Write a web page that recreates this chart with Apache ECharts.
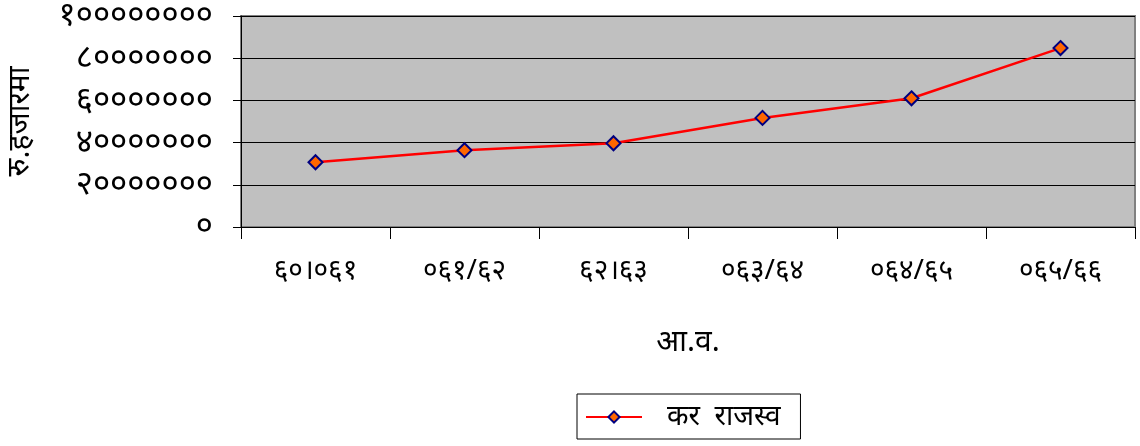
<!DOCTYPE html>
<html><head><meta charset="utf-8">
<script src="https://cdn.jsdelivr.net/npm/echarts@6/dist/echarts.min.js"></script>
<style>html,body{margin:0;padding:0;background:#fff}#c{width:1140px;height:446px}</style>
</head><body><div id="c"></div>
<script>
const categories = ['६०।०६१', '०६१/६२', '६२।६३', '०६३/६४', '०६४/६५', '०६५/६६'];
const seriesName = 'कर  राजस्व';
const values = [30700000, 36400000, 39700000, 51700000, 61000000, 84800000];
const yTicks = [0, 20000000, 40000000, 60000000, 80000000, 100000000];
const devDigits = ['०','१','२','३','४','५','६','७','८','९'];
function toDev(n){ return String(n).replace(/[0-9]/g, d => devDigits[+d]); }

const chart = echarts.init(document.getElementById('c'));
chart.setOption({
  animation: false,
  backgroundColor: '#fff',
  textStyle: { fontFamily: 'Noto Sans, sans-serif', color: '#000' },
  grid: { left: 241, right: 5, top: 16, bottom: 219, show: true, containLabel: false,
    outerBoundsMode: 'none',
    backgroundColor: '#C0C0C0', borderColor: '#808080', borderWidth: 2 },
  xAxis: {
    type: 'category', data: categories, boundaryGap: true,
    name: 'आ.व.', nameLocation: 'middle', nameGap: 100,
    nameTextStyle: { fontSize: 30, color: '#000' },
    axisLine: { lineStyle: { color: '#000', width: 1 } },
    axisTick: { show: true, length: 12, lineStyle: { color: '#000' } },
    axisLabel: { fontSize: 28, color: '#000', margin: 30 }
  },
  yAxis: {
    type: 'value', min: 0, max: 100000000, interval: 20000000,
    name: 'रु.हजारमा', nameLocation: 'middle', nameGap: 206, nameRotate: 90,
    nameTextStyle: { fontSize: 30, color: '#000' },
    axisLine: { show: true, lineStyle: { color: '#000', width: 1 } },
    axisTick: { show: true, length: 8, lineStyle: { color: '#000' } },
    axisLabel: { fontSize: 33, color: '#000', margin: 28,
      formatter: v => yTicks.includes(v) ? toDev(v) : '' },
    splitLine: { show: true, lineStyle: { color: '#000', width: 1 } }
  },
  legend: {
    data: [seriesName], left: 577, top: 394,
    padding: [9, 20, 8, 8],
    borderColor: '#000', borderWidth: 1, backgroundColor: '#fff',
    itemWidth: 56, itemHeight: 14, itemGap: 10,
    textStyle: { fontSize: 28, color: '#000', padding: [0, 0, 0, 20] }
  },
  series: [{
    name: seriesName, type: 'line', data: values,
    symbol: 'diamond', symbolSize: 14,
    lineStyle: { color: '#FF0000', width: 2.5 },
    itemStyle: { color: '#FF6600', borderColor: '#000080', borderWidth: 2 }
  }]
});
</script></body></html>
